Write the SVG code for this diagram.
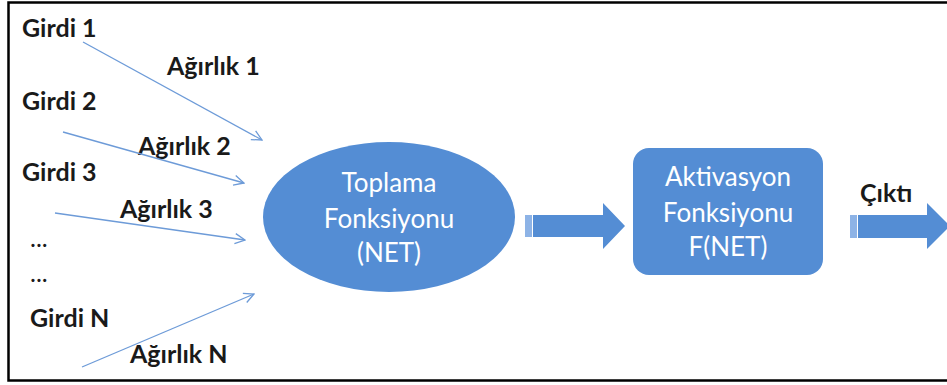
<svg xmlns="http://www.w3.org/2000/svg" width="947" height="385" viewBox="0 0 947 385">
  <style>
    .lbl { font-family: Lato, "Open Sans", sans-serif; font-weight: bold; font-size: 25px; fill: #1a1a1a; }
    .dots { font-family: Lato, "Open Sans", sans-serif; font-size: 25px; fill: #1a1a1a; }
    .in { font-family: Lato, "Open Sans", sans-serif; font-size: 26px; fill: #ffffff; text-anchor: middle; }
    .shape { fill: #548dd4; }
    .stripe { fill: #8db3e6; }
    .wire { stroke: #6d9bd8; stroke-width: 1.3; fill: none; marker-end: url(#vhead); }
  </style>
  <defs>
    <marker id="vhead" viewBox="0 0 12 12" refX="11" refY="6" markerWidth="12" markerHeight="12" markerUnits="userSpaceOnUse" orient="auto">
      <path d="M1,1 L11,6 L1,11" fill="none" stroke="#6d9bd8" stroke-width="1.3"/>
    </marker>
  </defs>

  <rect width="947" height="385" fill="#ffffff"/>
  <!-- frame: open on the right -->
  <path d="M947,2.5 H8.5 V380.5 H947" fill="none" stroke="#000" stroke-width="2.5"/>

  <g id="inputs">
    <text class="lbl" x="22" y="37">Girdi 1</text>
    <text class="lbl" x="22" y="110">Girdi 2</text>
    <text class="lbl" x="22" y="181">Girdi 3</text>
    <text class="dots" x="30" y="247">...</text>
    <text class="dots" x="30" y="282">...</text>
    <text class="lbl" x="30" y="327">Girdi N</text>
  </g>

  <g id="weights">
    <text class="lbl" x="167" y="75">Ağırlık 1</text>
    <text class="lbl" x="138" y="155">Ağırlık 2</text>
    <text class="lbl" x="120" y="218">Ağırlık 3</text>
    <text class="lbl" x="130" y="363">Ağırlık N</text>
  </g>

  <g id="connectors">
    <line class="wire" x1="83" y1="42" x2="262" y2="140"/>
    <line class="wire" x1="63" y1="132" x2="244" y2="183"/>
    <line class="wire" x1="55" y1="213" x2="245" y2="240"/>
    <line class="wire" x1="82" y1="367" x2="254" y2="294"/>
  </g>

  <g id="toplama">
    <ellipse class="shape" cx="389" cy="217" rx="126" ry="75"/>
    <text class="in" x="389" y="192">Toplama</text>
    <text class="in" x="389" y="228">Fonksiyonu</text>
    <text class="in" x="389" y="262">(NET)</text>
  </g>

  <g id="arrow-net">
    <rect class="stripe" x="525" y="215" width="7" height="22"/>
    <path class="shape" d="M533,215 H603 V203 L625,226 L603,249 V237 H533 Z"/>
  </g>

  <g id="aktivasyon">
    <rect class="shape" x="633" y="148" width="190" height="127" rx="16"/>
    <text class="in" x="728" y="186">Aktivasyon</text>
    <text class="in" x="728" y="222">Fonksiyonu</text>
    <text class="in" x="728" y="256">F(NET)</text>
  </g>

  <g id="output">
    <text class="lbl" x="860" y="202">Çıktı</text>
    <rect class="stripe" x="850" y="215" width="7" height="23"/>
    <path class="shape" d="M858,215 H927 V203 L950,226 L927,249 V238 H858 Z"/>
  </g>
</svg>
